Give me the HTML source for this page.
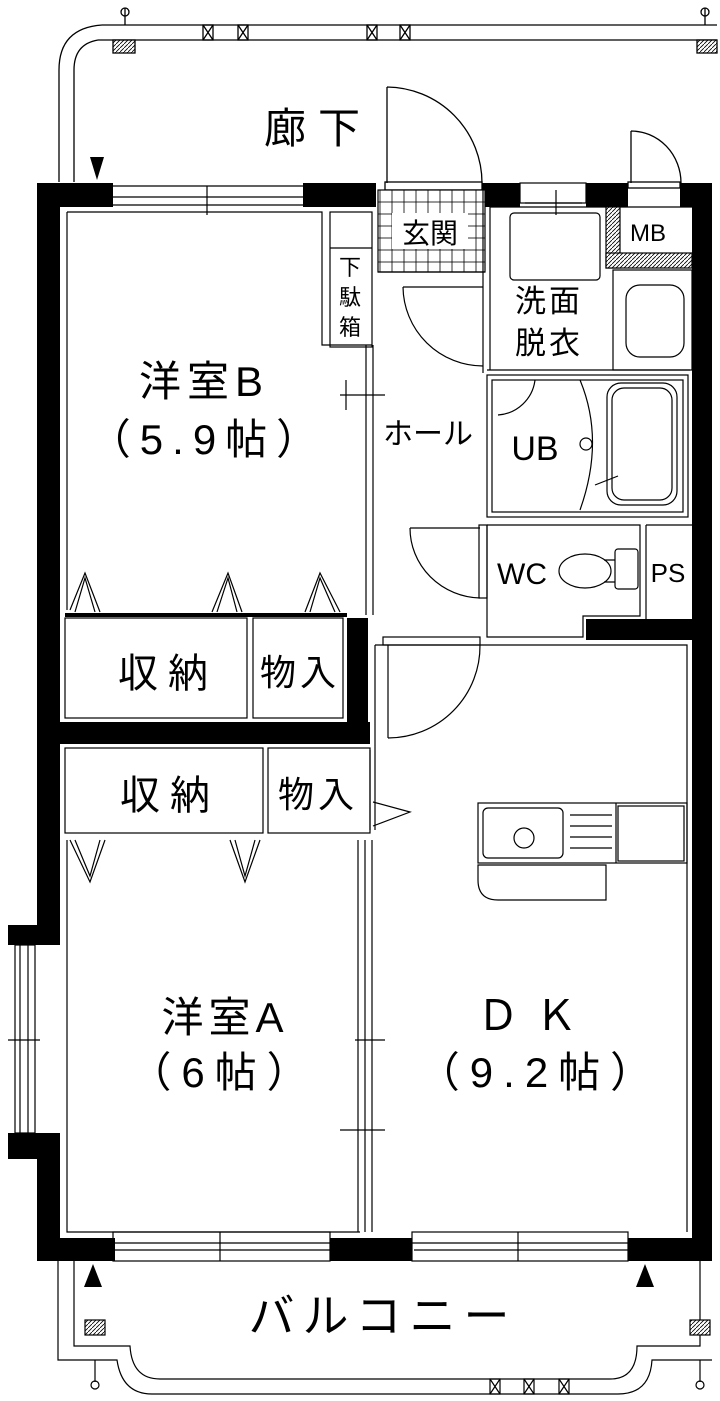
<!DOCTYPE html>
<html><head><meta charset="utf-8"><style>
html,body{margin:0;padding:0;background:#fff}
svg{display:block}
text{font-family:"Liberation Sans","Noto Sans CJK JP",sans-serif;fill:#000}
</style></head><body>
<svg width="720" height="1401" viewBox="0 0 720 1401" xmlns="http://www.w3.org/2000/svg">
<defs>
<pattern id="h" width="4" height="4" patternUnits="userSpaceOnUse"><rect width="4" height="4" fill="#fff"/><path d="M0 4L4 0" stroke="#000" stroke-width="0.8"/></pattern>
<pattern id="t" width="12" height="12" patternUnits="userSpaceOnUse" x="380" y="190"><rect width="12" height="12" fill="#fff" stroke="#000" stroke-width="0.8"/></pattern>
</defs>
<g fill="none" stroke="#000" stroke-width="1.3">
<path d="M102 25H717M98 40H717"/>
<path d="M102 25Q59 28 59 70V182M98 40Q74 44 74 70V182"/>
<rect x="113" y="40" width="22" height="13" fill="url(#h)"/>
<rect x="697" y="40" width="20" height="13" fill="url(#h)"/>
<path d="M125 8V25M705 8V25"/><circle cx="125" cy="12" r="4"/><circle cx="705" cy="12" r="4"/>
<rect x="203" y="25" width="10" height="15"/><rect x="238" y="25" width="10" height="15"/><rect x="367" y="25" width="10" height="15"/><rect x="400" y="25" width="10" height="15"/>
<path d="M203 25L213 40M213 25L203 40M238 25L248 40M248 25L238 40M367 25L377 40M377 25L367 40M400 25L410 40M410 25L400 40"/>
<path d="M387 87V183M387 87A96 96 0 0 1 482 183"/>
<path d="M631 131V183M631 131A50 52 0 0 1 681 183"/>
<rect x="385" y="182" width="97" height="8"/>
<rect x="628" y="182" width="52" height="6"/>
</g>
<path d="M90 157H104L97 180Z" fill="#000"/>
<g fill="#000">
<rect x="37" y="183" width="76" height="24"/>
<rect x="303" y="183" width="73" height="24"/>
<rect x="482" y="183" width="38" height="24"/>
<rect x="586" y="183" width="42" height="24"/>
<rect x="680" y="183" width="32" height="24"/>
<rect x="692" y="183" width="20" height="1078"/>
<rect x="37" y="183" width="23" height="745"/>
<rect x="8" y="925" width="52" height="20"/>
<rect x="8" y="1133" width="52" height="26"/>
<rect x="37" y="1133" width="23" height="128"/>
<rect x="37" y="1238" width="78" height="23"/>
<rect x="330" y="1238" width="82" height="23"/>
<rect x="628" y="1238" width="84" height="23"/>
<rect x="37" y="722" width="333" height="22"/>
<rect x="347" y="618" width="21" height="126"/>
<rect x="586" y="619" width="106" height="21"/>
</g>
<g fill="none" stroke="#000" stroke-width="1.2">
<path d="M113 186H303M113 197H303M113 205H303M207 186V215"/>
<rect x="520" y="183" width="66" height="20"/>
<path d="M525 203H582M556 190V215"/>
<rect x="15" y="945" width="20" height="188"/><path d="M20 945V1133M28 945V1133M8 1040H40"/>
<rect x="113" y="1232" width="217" height="29"/><path d="M113 1243H330M220 1232V1261M115 1250H330"/>
<rect x="412" y="1232" width="216" height="29"/><path d="M412 1243H628M518 1232V1261M414 1250H628"/>
<path d="M67 212H322V345H372M67 212V610"/>
<rect x="330" y="212" width="42" height="135"/><path d="M330 248H372"/>
<path d="M366 345V615M373 345V615M340 395H385M346 380V410"/>
<rect x="378" y="190" width="107" height="82" fill="url(#t)"/>
<rect x="392" y="213" width="76" height="36" fill="#fff" stroke="none"/>
<path d="M378 272H485M483 190V373M490 207V370"/>
<path d="M490 207H692M487 370H690"/>
<rect x="510" y="213" width="90" height="67" rx="4"/>
<rect x="606" y="207" width="14" height="61" fill="url(#h)"/>
<rect x="606" y="253" width="86" height="15" fill="url(#h)"/>
<rect x="613" y="270" width="79" height="100"/>
<rect x="626" y="285" width="58" height="72" rx="14"/>
<path d="M403 287H483M403 287A80 80 0 0 0 483 366"/>
<rect x="487" y="375" width="201" height="142"/>
<rect x="492" y="380" width="191" height="132"/>
<rect x="607" y="383" width="70" height="122" rx="14"/>
<rect x="612" y="388" width="60" height="112" rx="12"/>
<path d="M580 380Q605 440 580 510M498 415A40 40 0 0 0 535 380"/>
<circle cx="586" cy="444" r="6"/><path d="M595 485L618 476"/>
<path d="M487 525H640V616H583V637H487V525M646 525H692M646 525V619"/>
<rect x="479" y="525" width="8" height="73"/>
<path d="M410 528H480M410 528A72 70 0 0 0 480 598"/>
<ellipse cx="585" cy="571" rx="26" ry="17"/>
<rect x="615" y="549" width="23" height="40" rx="3"/>
<path d="M604 560H615M604 582H615"/>
<rect x="383" y="637" width="97" height="8"/>
<path d="M388 645V738M480 645A92 92 0 0 1 388 738"/>
<path d="M375 645H687V1232M375 645V830"/>
<rect x="478" y="803" width="209" height="60"/>
<rect x="483" y="808" width="80" height="50" rx="5"/>
<circle cx="524" cy="838" r="10"/>
<path d="M570 815H612M570 826H612M570 837H612M570 848H612M616 803V863"/>
<rect x="618" y="806" width="66" height="55"/>
<path d="M478 865H606V900H498Q478 900 478 880Z"/>
<rect x="65" y="618" width="182" height="100"/>
<rect x="253" y="618" width="90" height="100"/>
<path d="M70 610L85 573L100 612M75 612L85 578L95 612M212 612L228 573L242 612M217 612L228 578L237 612M305 612L320 573L340 612M310 612L320 578L335 612"/>
</g>
<rect x="65" y="613" width="282" height="4" fill="#000"/>
<g fill="none" stroke="#000" stroke-width="1.2">
<rect x="65" y="748" width="198" height="85"/>
<rect x="268" y="748" width="102" height="85"/>
<path d="M370 750V830M373 802L410 812L373 826"/>
<path d="M70 840L90 882L105 840M75 840L90 876L100 840M230 840L245 882L260 840M235 840L245 876L255 840"/>
<path d="M67 840V1232H360M67 945V1135"/>
<path d="M358 840V1232M365 840V1232M372 840V1232M355 1040H385M340 1130H385"/>
<path d="M74 1261V1346H130Q132 1379 160 1379H610Q637 1379 637 1346H700V1261"/>
<path d="M58 1261V1360H117Q122 1394 152 1394H618Q650 1394 652 1360H712"/>
<rect x="85" y="1320" width="20" height="15" fill="url(#h)"/>
<rect x="690" y="1320" width="20" height="15" fill="url(#h)"/>
<path d="M95 1360V1382M700 1360V1382"/><circle cx="95" cy="1385" r="4"/><circle cx="700" cy="1385" r="4"/>
<rect x="490" y="1379" width="10" height="15"/><rect x="524" y="1379" width="10" height="15"/><rect x="559" y="1379" width="10" height="15"/>
<path d="M490 1379L500 1394M500 1379L490 1394M524 1379L534 1394M534 1379L524 1394M559 1379L569 1394M569 1379L559 1394"/>
</g>
<path d="M93 1264L84 1287H102Z" fill="#000"/>
<path d="M645 1264L636 1287H654Z" fill="#000"/>
<text x="318" y="143" font-size="42" text-anchor="middle" letter-spacing="12">廊下</text>
<text x="430" y="243" font-size="28" text-anchor="middle">玄関</text>
<text x="648" y="241" font-size="24" text-anchor="middle">MB</text>
<text x="350" y="275" font-size="22" text-anchor="middle">下</text>
<text x="350" y="305" font-size="22" text-anchor="middle">駄</text>
<text x="350" y="335" font-size="22" text-anchor="middle">箱</text>
<text x="549" y="312" font-size="31" text-anchor="middle" letter-spacing="3">洗面</text>
<text x="549" y="354" font-size="31" text-anchor="middle" letter-spacing="3">脱衣</text>
<text x="428" y="444" font-size="30" text-anchor="middle">ホール</text>
<text x="535" y="460" font-size="34" text-anchor="middle">UB</text>
<text x="522" y="584" font-size="30" text-anchor="middle">WC</text>
<text x="668" y="582" font-size="26" text-anchor="middle">PS</text>
<text x="204" y="396" font-size="42" text-anchor="middle" letter-spacing="6">洋室B</text>
<text x="208" y="454" font-size="42" text-anchor="middle" letter-spacing="9">（5.9帖）</text>
<text x="168" y="687" font-size="40" text-anchor="middle" letter-spacing="10">収納</text>
<text x="300" y="685" font-size="36" text-anchor="middle" letter-spacing="4">物入</text>
<text x="170" y="809" font-size="40" text-anchor="middle" letter-spacing="10">収納</text>
<text x="318" y="807" font-size="36" text-anchor="middle" letter-spacing="4">物入</text>
<text x="225" y="1032" font-size="42" text-anchor="middle" letter-spacing="5">洋室A</text>
<text x="224" y="1087" font-size="42" text-anchor="middle" letter-spacing="10">（6帖）</text>
<text x="535" y="1030" font-size="42" text-anchor="middle" letter-spacing="16">ＤＫ</text>
<text x="540" y="1087" font-size="42" text-anchor="middle" letter-spacing="10">（9.2帖）</text>
<text x="383" y="1332" font-size="46" text-anchor="middle" letter-spacing="8">バルコニー</text>
</svg>
</body></html>
